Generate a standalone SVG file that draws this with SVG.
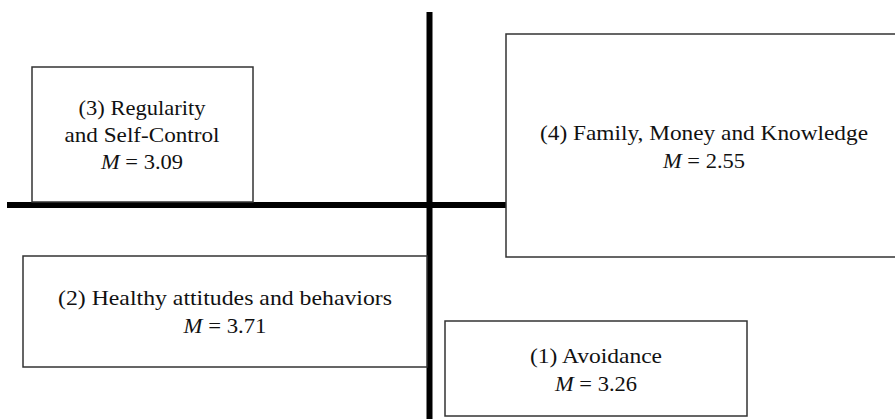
<svg xmlns="http://www.w3.org/2000/svg" width="895" height="419" viewBox="0 0 895 419">
<style>
.box{fill:#fff;stroke:#333;stroke-width:1.5}
.axis{stroke:#000;stroke-width:6;fill:none}
text{font-family:"Liberation Serif","Times New Roman",serif;font-size:21px;fill:#111;text-anchor:middle}
.m{font-style:italic}
</style>
<rect width="895" height="419" fill="#fff"/>
<g id="axes">
<line class="axis" x1="7" y1="205" x2="507" y2="205"/>
<line class="axis" x1="429.5" y1="12" x2="429.5" y2="419"/>
</g>
<g id="node3">
<rect class="box" x="32" y="67" width="221" height="135"/>
<text x="142" y="115" textLength="127" lengthAdjust="spacingAndGlyphs">(3) Regularity</text>
<text x="142" y="142" textLength="155" lengthAdjust="spacingAndGlyphs">and Self-Control</text>
<text x="142" y="169" textLength="82" lengthAdjust="spacingAndGlyphs"><tspan class="m">M</tspan> = 3.09</text>
</g>
<g id="node4">
<rect class="box" x="506" y="34" width="395" height="223"/>
<text x="704" y="140" textLength="328" lengthAdjust="spacingAndGlyphs">(4) Family, Money and Knowledge</text>
<text x="704" y="168" textLength="82" lengthAdjust="spacingAndGlyphs"><tspan class="m">M</tspan> = 2.55</text>
</g>
<g id="node2">
<rect class="box" x="23" y="256" width="404" height="111"/>
<text x="225" y="305" textLength="334" lengthAdjust="spacingAndGlyphs">(2) Healthy attitudes and behaviors</text>
<text x="225" y="333" textLength="83" lengthAdjust="spacingAndGlyphs"><tspan class="m">M</tspan> = 3.71</text>
</g>
<g id="node1">
<rect class="box" x="445" y="321" width="302" height="95"/>
<text x="596" y="363" textLength="132" lengthAdjust="spacingAndGlyphs">(1) Avoidance</text>
<text x="596" y="391" textLength="82" lengthAdjust="spacingAndGlyphs"><tspan class="m">M</tspan> = 3.26</text>
</g>
</svg>
